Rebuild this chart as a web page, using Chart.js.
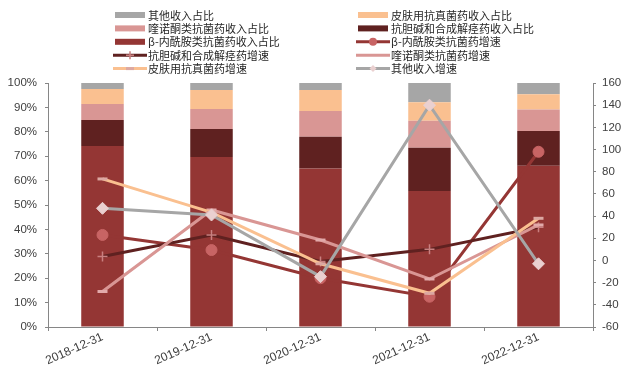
<!DOCTYPE html>
<html>
<head>
<meta charset="utf-8">
<script src="https://cdn.jsdelivr.net/npm/chart.js@4/dist/chart.umd.min.js"></script>
<style>
  body { margin: 0; background: #fff; }
  #chart { display: block; }
</style>
</head>
<body>
<canvas id="chart" width="621" height="367"></canvas>
<script>
// 年份
const years = ["2018-12-31", "2019-12-31", "2020-12-31", "2021-12-31", "2022-12-31"];

// 收入占比（%），自下而上堆叠
const betaShare = [74.2, 69.7, 65.0, 55.7, 66.1];
const antiCholShare = [10.6, 11.4, 13.0, 17.8, 14.2];
const quinoShare = [6.6, 8.2, 10.5, 11.0, 8.8];
const skinShare = [6.1, 7.8, 8.6, 7.6, 6.3];
const otherShare = [2.5, 2.9, 2.9, 7.9, 4.6];

// 增速（%），右轴
const betaGrowth = [23, 9.4, -16, -32.7, 98];
const antiCholGrowth = [3.5, 23, -1, 10, 30];
const quinoGrowth = [-28, 45.5, 18.4, -16.7, 32];
const skinGrowth = [73.5, 43.4, -3, -29.6, 38];
const otherGrowth = [47, 41, -14.6, 140, -3];

// 轴刻度
const leftTicks = { min: 0, max: 100, step: 10 };
const rightTicks = { min: -60, max: 160, step: 20 };

const RED = "#943634", DARK = "#5f2120", PINK = "#d99694", ORANGE = "#fac090", GREY = "#a6a6a6";
const axisColor = "#868686";
const tickFont = { family: "'Liberation Sans', Arial, sans-serif", size: 11.5 };

function bar(label, data, color) {
  return { type: "bar", label, data, backgroundColor: color, yAxisID: "y", order: 10,
           barPercentage: 0.39, categoryPercentage: 1 };
}

function line(label, data, color, marker, markerColor, radius, order) {
  return { type: "line", label, data, borderColor: color, borderWidth: 3, yAxisID: "y1",
           tension: 0, order, pointStyle: marker, pointRadius: radius,
           pointBackgroundColor: markerColor, pointBorderColor: markerColor,
           pointBorderWidth: marker === "cross" ? 1.5 : (marker === "line" ? 3 : 1) };
}

const datasets = [
  bar("β-内酰胺类抗菌药收入占比", betaShare, RED),
  bar("抗胆碱和合成解痉药收入占比", antiCholShare, DARK),
  bar("喹诺酮类抗菌药收入占比", quinoShare, PINK),
  bar("皮肤用抗真菌药收入占比", skinShare, ORANGE),
  bar("其他收入占比", otherShare, GREY),
  line("β-内酰胺类抗菌药增速", betaGrowth, RED, "circle", "#c86464", 5.5, 5),
  line("抗胆碱和合成解痉药增速", antiCholGrowth, DARK, "cross", "#c98080", 5, 4),
  line("喹诺酮类抗菌药增速", quinoGrowth, PINK, "line", "#e2aaaa", 5, 3),
  line("皮肤用抗真菌药增速", skinGrowth, ORANGE, "line", "#dca8a2", 5, 2),
  line("其他收入增速", otherGrowth, GREY, "rectRot", "#ead0d0", 6, 1)
];

// 两列图例，按行排列
const legendRows = [[4, 3], [2, 1], [0, 5], [6, 7], [8, 9]];
const legendCols = [115, 358];

function drawMarker(ctx, ds, x, y) {
  const r = ds.pointRadius;
  ctx.fillStyle = ds.pointBackgroundColor;
  ctx.strokeStyle = ds.pointBorderColor;
  ctx.lineWidth = ds.pointBorderWidth;
  ctx.beginPath();
  if (ds.pointStyle === "circle") {
    ctx.arc(x, y, r - 1.5, 0, Math.PI * 2);
    ctx.fill();
  } else if (ds.pointStyle === "cross") {
    ctx.moveTo(x - r + 1, y); ctx.lineTo(x + r - 1, y);
    ctx.moveTo(x, y - r + 1); ctx.lineTo(x, y + r - 1);
    ctx.stroke();
  } else if (ds.pointStyle === "rectRot") {
    ctx.moveTo(x, y - 3.5); ctx.lineTo(x + 3.5, y); ctx.lineTo(x, y + 3.5); ctx.lineTo(x - 3.5, y);
    ctx.closePath();
    ctx.fill();
  } else {
    ctx.moveTo(x - 4, y); ctx.lineTo(x + 4, y);
    ctx.stroke();
  }
}

const gridLegend = {
  id: "gridLegend",
  afterDraw(chart) {
    const ctx = chart.ctx;
    ctx.save();
    ctx.font = "11px 'Noto Sans CJK SC', sans-serif";
    ctx.textBaseline = "middle";
    legendRows.forEach((row, r) => {
      row.forEach((idx, c) => {
        const ds = chart.data.datasets[idx];
        const x = legendCols[c];
        const y = 15 + r * 13.4;
        if (ds.type === "bar") {
          ctx.fillStyle = ds.backgroundColor;
          ctx.fillRect(x, y - 3, 30, 6);
        } else {
          ctx.strokeStyle = ds.borderColor;
          ctx.lineWidth = 3;
          ctx.beginPath();
          ctx.moveTo(x - 2, y);
          ctx.lineTo(x + 32, y);
          ctx.stroke();
          if (ds.pointStyle !== "line" || idx === 8) drawMarker(ctx, ds, x + 15, y);
        }
        ctx.fillStyle = "#262626";
        ctx.fillText(ds.label, x + 33, y + 0.5);
      });
    });
    ctx.restore();
  }
};

new Chart(document.getElementById("chart"), {
  data: { labels: years, datasets },
  plugins: [gridLegend],
  options: {
    responsive: false,
    animation: false,
    layout: { padding: { top: 83, left: 0, right: 0, bottom: 0 } },
    plugins: { legend: { display: false }, tooltip: { enabled: false } },
    scales: {
      x: {
        stacked: true,
        offset: true,
        border: { color: axisColor },
        grid: { offset: true, drawOnChartArea: false, tickLength: 4, color: axisColor },
        ticks: { minRotation: 24, maxRotation: 24, padding: -1, color: "#404040",
                 font: { family: tickFont.family, size: 12 } },
        afterFit: s => { s.height = 40; }
      },
      y: {
        stacked: true,
        min: leftTicks.min, max: leftTicks.max,
        border: { color: axisColor },
        grid: { drawOnChartArea: false, tickLength: 3, color: axisColor },
        ticks: { stepSize: leftTicks.step, padding: 8, color: "#404040", font: tickFont,
                 callback: v => v + "%" },
        afterFit: s => { s.width = 48; }
      },
      y1: {
        position: "right",
        min: rightTicks.min, max: rightTicks.max,
        border: { color: axisColor },
        grid: { drawOnChartArea: false, tickLength: 3, color: axisColor },
        ticks: { stepSize: rightTicks.step, padding: 6, color: "#404040", font: tickFont },
        afterFit: s => { s.width = 28; }
      }
    }
  }
});
</script>
</body>
</html>
